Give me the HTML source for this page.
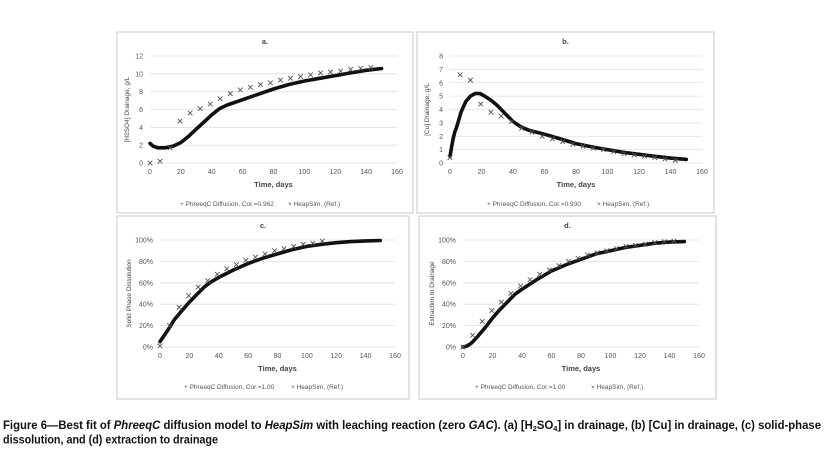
<!DOCTYPE html>
<html><head><meta charset="utf-8"><style>
html,body{margin:0;padding:0;background:#fff;}
svg{display:block;font-family:"Liberation Sans",sans-serif;}
</style></head><body>
<svg id="s" width="828" height="467" viewBox="0 0 828 467">
<text x="3" y="429" font-size="11.5" font-weight="bold" fill="#111" textLength="818" lengthAdjust="spacingAndGlyphs">Figure 6—Best fit of <tspan font-style="italic">PhreeqC</tspan> diffusion model to <tspan font-style="italic">HeapSim</tspan> with leaching reaction (zero <tspan font-style="italic">GAC</tspan>). (a) [H<tspan font-size="7.5" dy="2">2</tspan><tspan dy="-2">SO</tspan><tspan font-size="7.5" dy="2">4</tspan><tspan dy="-2">] in drainage, (b) [Cu] in drainage, (c) solid-phase</tspan></text>
<text x="3" y="443.5" font-size="11.5" font-weight="bold" fill="#111" textLength="215" lengthAdjust="spacingAndGlyphs">dissolution, and (d) extraction to drainage</text>
</svg>
<script>
const aDays=[0,6.5,13,19.5,26,32.5,39,45.5,52,58.5,65,71.5,78,84.5,91,97.5,104,110.5,117,123.5,130,136.5,143];
const aHeap=[0,0.2,1.7,4.7,5.6,6.1,6.6,7.2,7.8,8.2,8.5,8.8,9.0,9.3,9.5,9.7,9.9,10.1,10.2,10.3,10.5,10.6,10.7];
const aModelDays=[0,2,5,10,15,20,25,30,35,40,45,50,60,70,80,90,100,110,120,130,140,150];
const aModel=[2.2,1.9,1.7,1.7,1.9,2.3,3.0,3.8,4.6,5.4,6.1,6.5,7.1,7.7,8.3,8.8,9.2,9.5,9.8,10.1,10.4,10.6];
const bDays=aDays;
const bHeap=[0.4,6.6,6.2,4.4,3.8,3.5,3.1,2.6,2.3,2.0,1.8,1.6,1.4,1.25,1.1,1.0,0.85,0.7,0.6,0.5,0.4,0.3,0.2];
const bModelDays=[0,1,2,3,4,5,7,10,13,16,19,22,26,30,35,40,45,50,60,70,80,90,100,110,120,130,140,150];
const bModel=[0.5,1.2,1.8,2.3,2.6,3.0,3.8,4.6,5.0,5.2,5.2,5.0,4.7,4.3,3.7,3.1,2.7,2.45,2.15,1.8,1.45,1.2,1.0,0.8,0.65,0.5,0.37,0.27];
const cDays=[0,6.5,13,19.5,26,32.5,39,45.5,52,58.5,65,71.5,78,84.5,91,97.5,104,110.5];
const cHeap=[1,20,37,48,56,62,68,73,77,81,84,87,90,92,94,96,97,99];
const cModelDays=[0,5,10,15,20,25,30,35,40,50,60,70,80,90,100,110,120,130,140,150];
const cModel=[5,15,26,34,42,49,56,61,65,72,78,83,87,91,94,96,97.5,98.5,99.2,99.5];
const dDays=aDays;
const dHeap=[0,11,24,34,42,50,57,63,68,72,76,80,83,86,88,90,92,94,95,96,97.5,98.5,99];
const dModelDays=[0,3,6,10,15,20,25,30,35,40,50,60,70,80,90,100,110,120,130,140,150];
const dModel=[0,1,4,10,18,27,35,42,49,54,63,71,77,82,87,90,93,95,97,98,98.5];
const xTicks=[0,20,40,60,80,100,120,140,160];

const S=document.getElementById('s');
const NS='http://www.w3.org/2000/svg';
function el(tag,attrs,parent){const e=document.createElementNS(NS,tag);for(const k in attrs)e.setAttribute(k,attrs[k]);(parent||S).appendChild(e);return e;}

function panel(o){
  const g=el('g',{});
  
  
  const box=el('rect',{x:o.bx,y:o.by,width:o.bw,height:o.bh,fill:'#fff',stroke:'#c8c8c8','stroke-width':1},g);
  
  
  const X=v=>o.x0+(v/160)*(o.x1-o.x0);
  const Y=v=>o.y0-(v/o.ymax)*(o.y0-o.y1);
  o.yTicks.forEach((t,i)=>{
    const ln=el('line',{x1:X(0),x2:X(160),y1:Y(t),y2:Y(t),stroke:'#dedede','stroke-width':0.8},g);
    
    
    const tx=el('text',{x:X(0)-7,y:Y(t)+2.5,'font-size':7,fill:'#555','text-anchor':'end'},g);
    tx.textContent=o.yLabels[i];
    
    
  });
  xTicks.forEach(t=>{
    const tx=el('text',{x:X(t),y:o.y0+11,'font-size':7,fill:'#555','text-anchor':'middle'},g);
    tx.textContent=t;
    
    
  });
  const title=el('text',{x:(o.bx+o.bw/2),y:o.by+12,'font-size':7.5,'font-weight':'bold',fill:'#444','text-anchor':'middle'},g);
  title.textContent=o.title;
  
  
  const xl=el('text',{x:(X(0)+X(160))/2,y:o.y0+24,'font-size':7.5,'font-weight':'bold',fill:'#444','text-anchor':'middle'},g);
  xl.textContent='Time, days';
  
  
  const cy=(o.y0+o.y1)/2;
  const yl=el('text',{x:o.ylx,y:cy,'font-size':6.5,fill:'#444','text-anchor':'middle',transform:`rotate(-90 ${o.ylx} ${cy})`},g);
  yl.textContent=o.ytitle;
  
  
  const pts=o.mDays.map((d,i)=>X(d).toFixed(1)+','+Y(o.mVals[i]).toFixed(1)).join(' ');
  const pl=el('polyline',{points:pts,fill:'none',stroke:'#111','stroke-width':3.6,'stroke-linejoin':'round','stroke-linecap':'round'},g);
  
  
  o.hDays.forEach((d,i)=>{
    const x=X(d),y=Y(o.hVals[i]),r=2.3;
    const p=el('path',{d:`M${x-r},${y-r}L${x+r},${y+r}M${x-r},${y+r}L${x+r},${y-r}`,stroke:'#555','stroke-width':0.9},g);
    
    
  });
  const l1=el('text',{x:o.lx1,y:o.ly,'font-size':6.5,fill:'#555'},g);
  l1.textContent='+ PhreeqC Diffusion, Cor.='+o.cor;
  
  
  const l2=el('text',{x:o.lx2,y:o.ly,'font-size':6.5,fill:'#555'},g);
  l2.textContent='× HeapSim, (Ref.)';
  
  
}
const pct=[0,20,40,60,80,100];
panel({id:'a',bx:117,by:32,bw:296,bh:181,x0:150,x1:397,y0:163,y1:56,ymax:12,yTicks:[0,2,4,6,8,10,12],yLabels:['0','2','4','6','8','10','12'],
  title:'a.',ytitle:'[H2SO4] Drainage, g/L',ylx:129,mDays:aModelDays,mVals:aModel,hDays:aDays,hVals:aHeap,cor:'0.962',lx1:180,lx2:288,ly:206});
panel({id:'b',bx:417,by:32,bw:297,bh:181,x0:450,x1:702,y0:163,y1:56,ymax:8,yTicks:[0,1,2,3,4,5,6,7,8],yLabels:['0','1','2','3','4','5','6','7','8'],
  title:'b.',ytitle:'[Cu] Drainage, g/L',ylx:429,mDays:bModelDays,mVals:bModel,hDays:bDays,hVals:bHeap,cor:'0.930',lx1:487,lx2:597,ly:206});
panel({id:'c',bx:117,by:216,bw:292,bh:183,x0:160,x1:395,y0:347,y1:240,ymax:100,yTicks:pct,yLabels:pct.map(v=>v+'%'),
  title:'c.',ytitle:'Solid Phase Dissolution',ylx:131,mDays:cModelDays,mVals:cModel,hDays:cDays,hVals:cHeap,cor:'1.00',lx1:184,lx2:291,ly:389});
panel({id:'d',bx:419,by:216,bw:297,bh:183,x0:463,x1:699,y0:347,y1:240,ymax:100,yTicks:pct,yLabels:pct.map(v=>v+'%'),
  title:'d.',ytitle:'Extraction to Drainage',ylx:434,mDays:dModelDays,mVals:dModel,hDays:dDays,hVals:dHeap,cor:'1.00',lx1:475,lx2:591,ly:389});
</script>
</body></html>
